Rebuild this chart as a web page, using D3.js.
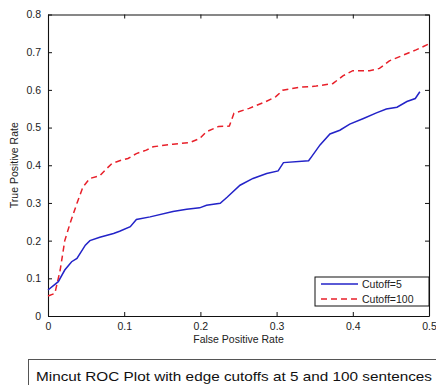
<!DOCTYPE html>
<html><head><meta charset="utf-8">
<script src="https://cdn.jsdelivr.net/npm/d3@7"></script>
<style>body{margin:0;background:#fff}svg{display:block}text{font-family:"Liberation Sans",Arial,sans-serif}</style>
</head><body>
<script>
const xTicks=[0,0.1,0.2,0.3,0.4,0.5];
const yTicks=[0,0.1,0.2,0.3,0.4,0.5,0.6,0.7,0.8];
const seriesNames=["Cutoff=5","Cutoff=100"];
const cut5X=[0,0.0135,0.022,0.031,0.038,0.049,0.055,0.068,0.086,0.094,0.108,0.116,0.134,0.164,0.182,0.199,0.208,0.226,0.235,0.252,0.269,0.287,0.302,0.309,0.342,0.346,0.357,0.370,0.383,0.396,0.414,0.431,0.444,0.458,0.471,0.482,0.488];
const cut5Y=[0.069,0.091,0.122,0.144,0.153,0.188,0.200,0.209,0.219,0.225,0.237,0.256,0.263,0.277,0.283,0.287,0.294,0.299,0.315,0.347,0.365,0.378,0.385,0.407,0.412,0.423,0.454,0.483,0.493,0.509,0.524,0.539,0.549,0.554,0.569,0.577,0.595];
const cut100X=[0,0.009,0.016,0.022,0.029,0.038,0.046,0.055,0.068,0.075,0.084,0.094,0.105,0.116,0.129,0.138,0.164,0.186,0.199,0.208,0.224,0.238,0.244,0.264,0.286,0.299,0.308,0.330,0.352,0.374,0.387,0.400,0.422,0.435,0.448,0.466,0.483,0.5];
const cut100Y=[0.053,0.060,0.122,0.200,0.246,0.299,0.343,0.365,0.372,0.387,0.405,0.412,0.418,0.431,0.440,0.449,0.456,0.460,0.471,0.489,0.503,0.504,0.538,0.551,0.569,0.582,0.599,0.607,0.610,0.617,0.637,0.651,0.651,0.657,0.677,0.692,0.706,0.722];
const caption="Mincut ROC Plot with edge cutoffs at 5 and 100 sentences";

const W=436,H=385;
const L=48,R=429,T=14.5,B=316;
const svg=d3.select("body").append("svg").attr("width",W).attr("height",H);
const x=d3.scaleLinear().domain([0,0.5]).range([L,R]);
const y=d3.scaleLinear().domain([0,0.8]).range([B,T]);
const fmt=d=>d===0?"0":d3.format(".1f")(d);
const tc="#222";

// axes (inward ticks, MATLAB-style)
const gB=svg.append("g").attr("transform",`translate(0,${B})`).call(d3.axisBottom(x).tickValues(xTicks).tickFormat(fmt).tickSizeInner(-4).tickSizeOuter(0).tickPadding(7));
const gT=svg.append("g").attr("transform",`translate(0,${T})`).call(d3.axisTop(x).tickValues(xTicks).tickFormat("").tickSizeInner(-4).tickSizeOuter(0));
const gL=svg.append("g").attr("transform",`translate(${L},0)`).call(d3.axisLeft(y).tickValues(yTicks).tickFormat(fmt).tickSizeInner(-4).tickSizeOuter(0).tickPadding(7));
const gR=svg.append("g").attr("transform",`translate(${R},0)`).call(d3.axisRight(y).tickValues(yTicks).tickFormat("").tickSizeInner(-4).tickSizeOuter(0));
[gB,gT,gL,gR].forEach(g=>{g.selectAll(".domain").attr("stroke","#111").attr("stroke-width",1.1);g.selectAll("line").attr("stroke","#111");g.selectAll("text").attr("fill",tc).attr("font-size","10.5px").attr("font-family","'Liberation Sans',Arial,sans-serif");});

// axis labels
svg.append("text").attr("x",(L+R)/2).attr("y",343).attr("text-anchor","middle").attr("font-size","10.5px").attr("fill",tc).text("False Positive Rate");
svg.append("text").attr("transform",`translate(18,${(T+B)/2}) rotate(-90)`).attr("text-anchor","middle").attr("font-size","10.5px").attr("fill",tc).text("True Positive Rate");

// lines
const line=d3.line().x(d=>x(d[0])).y(d=>y(d[1]));
const d5=cut5X.map((v,i)=>[v,cut5Y[i]]);
const d100=cut100X.map((v,i)=>[v,cut100Y[i]]);
svg.append("path").datum(d100).attr("d",line).attr("fill","none").attr("stroke","#e8202a").attr("stroke-width",1.5).attr("stroke-dasharray","6,4");
svg.append("path").datum(d5).attr("d",line).attr("fill","none").attr("stroke","#2323c8").attr("stroke-width",1.5);

// legend
const lg=svg.append("g");
lg.append("rect").attr("x",315).attr("y",277).attr("width",R-315).attr("height",29).attr("fill","#fff").attr("stroke","#111").attr("stroke-width",1);
lg.append("line").attr("x1",321).attr("x2",358).attr("y1",284).attr("y2",284).attr("stroke","#2323c8").attr("stroke-width",1.5);
lg.append("line").attr("x1",321).attr("x2",358).attr("y1",299).attr("y2",299).attr("stroke","#e8202a").attr("stroke-width",1.5).attr("stroke-dasharray","6,4");
lg.append("text").attr("x",362).attr("y",284).attr("dy","0.35em").attr("font-size","10.5px").attr("fill",tc).text(seriesNames[0]);
lg.append("text").attr("x",362).attr("y",299).attr("dy","0.35em").attr("font-size","10.5px").attr("fill",tc).text(seriesNames[1]);

// caption box
svg.append("rect").attr("x",28.5).attr("y",359.5).attr("width",420).attr("height",40).attr("fill","#fff").attr("stroke","#555").attr("stroke-width",1);
const cap=svg.append("text").attr("x",36).attr("y",381).attr("font-size","13.5px").attr("fill","#111").text(caption);
const len=cap.node().getComputedTextLength();
cap.attr("textLength",396).attr("lengthAdjust","spacingAndGlyphs");
</script>
</body></html>
